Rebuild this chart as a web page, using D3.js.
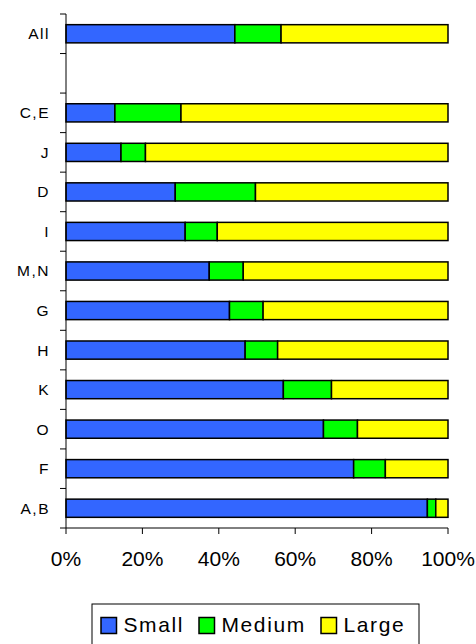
<html>
<script src="https://d3js.org/d3.v7.min.js"></script>
<body style="margin:0;background:#fff">
<svg></svg>
<script>
const width = 476, height = 644;
const categories = ["All", "", "C,E", "J", "D", "I", "M,N", "G", "H", "K", "O", "F", "A,B"];
const small  = [44.2, null, 12.8, 14.4, 28.6, 31.2, 37.5, 42.8, 46.9, 56.9, 67.4, 75.3, 94.6];
const medium = [12.1, null, 17.3, 6.4, 21.0, 8.4, 8.9, 8.8, 8.5, 12.6, 8.9, 8.3, 2.2];
const large  = [43.7, null, 69.9, 79.2, 50.4, 60.4, 53.6, 48.4, 44.6, 30.5, 23.7, 16.4, 3.2];
const seriesNames = ["Small", "Medium", "Large"];
const colors = ["#3366ff", "#00ff00", "#ffff00"];
const xTicks = [0, 20, 40, 60, 80, 100];

const svg = d3.select('svg').attr('width', width).attr('height', height)
    .style('font-family', 'Arial, "Liberation Sans", sans-serif');

const x = d3.scaleLinear().domain([0, 100]).range([66, 448]);
const y = d3.scaleBand().domain(d3.range(categories.length)).range([14, 528]).paddingInner(0.54).paddingOuter(0.27);
const band = d3.scaleBand().domain(d3.range(categories.length)).range([14, 528]);

const rows = categories.map((c, i) => ({c, i, vals: [small[i], medium[i], large[i]]}));

rows.forEach(r => {
    if (r.vals[0] == null) return;
    let acc = 0;
    r.vals.forEach((v, k) => {
        svg.append('rect')
            .attr('x', x(acc)).attr('y', y(r.i))
            .attr('width', x(acc + v) - x(acc)).attr('height', y.bandwidth())
            .attr('fill', colors[k]).attr('stroke', '#000').attr('stroke-width', 1.5);
        acc += v;
    });
});

// y axis
svg.append('line').attr('x1', 66).attr('x2', 66).attr('y1', 14).attr('y2', 528)
    .attr('stroke', '#000').attr('stroke-width', 1);
d3.range(categories.length + 1).forEach(i => {
    const yy = 14 + i * band.step();
    svg.append('line').attr('x1', 60).attr('x2', 66).attr('y1', yy).attr('y2', yy)
        .attr('stroke', '#000');
});
svg.selectAll('.cat').data(rows).enter().append('text')
    .attr('x', 50).attr('y', d => band(d.i) + band.bandwidth() / 2)
    .attr('dy', '0.35em').attr('text-anchor', 'end').attr('font-size', 15.5)
    .attr('letter-spacing', 1.5)
    .text(d => d.c);

// x axis
svg.append('line').attr('x1', 66).attr('x2', 448).attr('y1', 528).attr('y2', 528)
    .attr('stroke', '#000');
xTicks.forEach(t => {
    svg.append('line').attr('x1', x(t)).attr('x2', x(t)).attr('y1', 528).attr('y2', 534)
        .attr('stroke', '#000');
    svg.append('text').attr('x', x(t)).attr('y', 566).attr('text-anchor', 'middle')
        .attr('font-size', 21).text(t + '%');
});

// legend
svg.append('rect').attr('x', 92).attr('y', 604).attr('width', 327).attr('height', 50)
    .attr('fill', '#fff').attr('stroke', '#000');
const legX = [101, 199, 321];
seriesNames.forEach((n, k) => {
    svg.append('rect').attr('x', legX[k]).attr('y', 617.5).attr('width', 15.5).attr('height', 16)
        .attr('fill', colors[k]).attr('stroke', '#000').attr('stroke-width', 1.5);
    svg.append('text').attr('x', legX[k] + 22.5).attr('y', 632).attr('font-size', 21)
        .attr('letter-spacing', 1.6).text(n);
});
</script>
</body>
</html>
